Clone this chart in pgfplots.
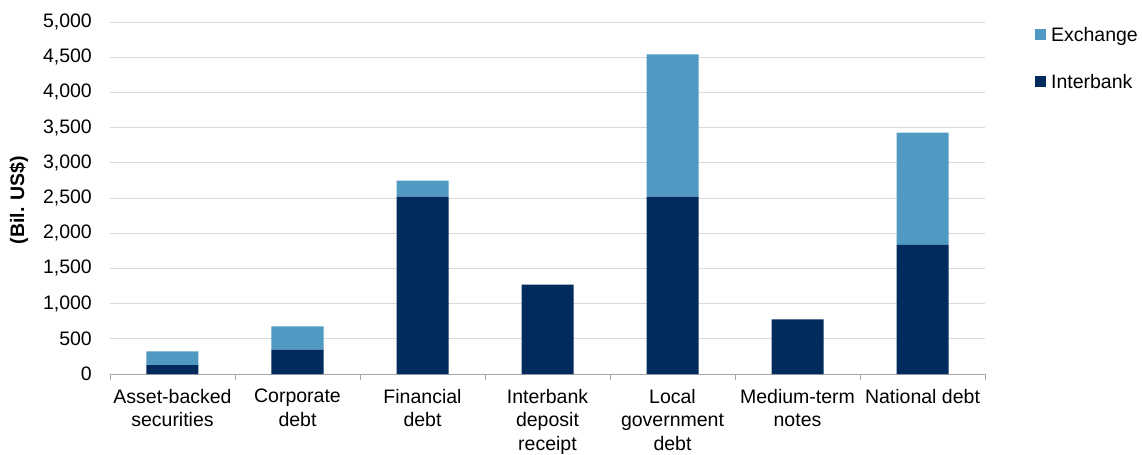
\documentclass[border=0pt]{standalone}
\usepackage{fontspec}
\setmainfont{Liberation Sans}
\usepackage{pgfplots}
\pgfplotsset{compat=1.18}
\definecolor{navy}{HTML}{002B5C}
\definecolor{lblue}{HTML}{4F99C2}
\definecolor{gridc}{HTML}{D9D9D9}
\definecolor{axc}{HTML}{A6A6A6}
\begin{document}
\begin{tikzpicture}
\path[use as bounding box] (-110bp,-81bp) rectangle (1032bp,374bp);
\begin{axis}[
  scale only axis,
  width=875bp, height=352bp,
  ybar stacked,
  bar width=52bp,
  xmin=-0.5, xmax=6.5,
  ymin=0, ymax=5000,
  ytick={0,500,...,5000},
  xtick={0,...,6},
  xticklabels={{Asset-backed\\securities},{Corporate\\debt},{Financial\\debt},{Interbank\\deposit\\receipt},{Local\\government\\debt},{Medium-term\\notes},{National debt}},
  xticklabel style={align=center, font=\fontsize{19.5bp}{23.5bp}\selectfont, inner sep=0pt, yshift=-15bp},
  yticklabel style={font=\fontsize{19.5bp}{23.5bp}\selectfont, inner sep=0pt, xshift=-18bp},
  /pgf/number format/assume math mode=true,
  /pgf/number format/1000 sep={,},
  scaled y ticks=false,
  major tick length=0pt,
  extra x ticks={-0.5,0.5,1.5,2.5,3.5,4.5,5.5,6.5},
  extra x tick labels={},
  extra x tick style={major tick length=6bp, tick align=outside, grid=none, tick style={draw=axc, line width=0.8bp}},
  axis x line*=bottom,
  axis y line*=left,
  x axis line style={draw=axc, line width=0.8bp, -},
  y axis line style={draw=none},
  ymajorgrids,
  grid style={draw=gridc, line width=0.8bp},
  ylabel={\textbf{(Bil. US\$)}},
  ylabel style={font=\fontsize{19.5bp}{23.5bp}\selectfont, at={(axis description cs:-0.104,0.494)}, anchor=center},
  legend style={at={(1.057,0.99)}, anchor=north west, draw=none, fill=none,
    font=\fontsize{19.5bp}{23.5bp}\selectfont, row sep=29bp, inner sep=0pt,
    legend cell align=left, nodes={inner sep=2bp, text depth=0pt},
    /tikz/every odd column/.append style={column sep=3bp}},
  legend image code/.code={\fill[#1] (0bp,-5bp) rectangle (11bp,6bp);},
  reverse legend,
]
\addplot[fill=navy, draw=none] coordinates {(0,125) (1,345) (2,2518) (3,1270) (4,2520) (5,775) (6,1835)};
\addlegendentry{Interbank}
\addplot[fill=lblue, draw=none] coordinates {(0,195) (1,330) (2,228) (3,0) (4,2020) (5,0) (6,1595)};
\addlegendentry{Exchange}
\end{axis}
\end{tikzpicture}
\end{document}
